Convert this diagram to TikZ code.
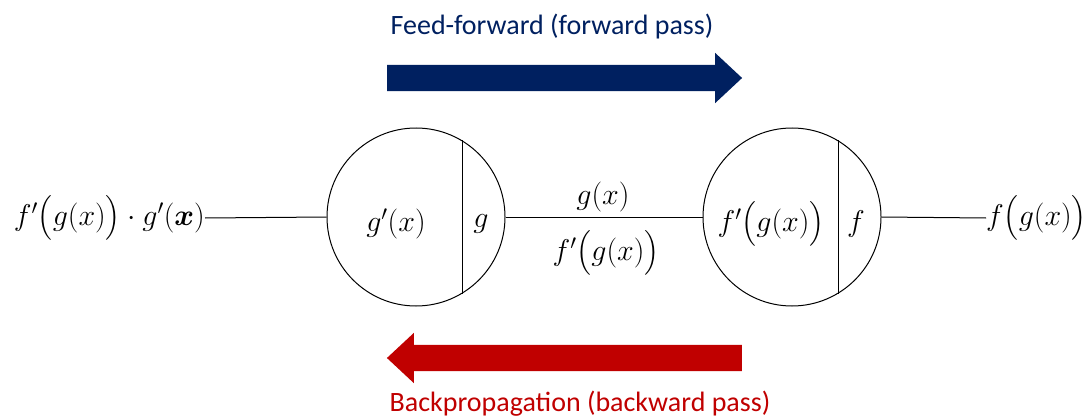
\documentclass[tikz,border=0pt]{standalone}
\usepackage{fix-cm}
\usepackage{amsmath}
\usepackage{fontspec}
\setmainfont{Carlito}
\usetikzlibrary{shapes.arrows}
\definecolor{navy}{RGB}{0,32,96}
\definecolor{darkred}{RGB}{192,0,0}
\tikzstyle{unit} = [circle, draw, line width=1pt, minimum size=178pt, inner sep=0pt]
\tikzstyle{lbl} = [inner sep=0pt, font=\fontsize{30}{36}\selectfont]
\tikzstyle{caption} = [inner sep=0pt, font=\fontsize{28}{34}\selectfont]
\tikzstyle{wire} = [line width=1pt]
\tikzstyle{bigarrow} = [single arrow, minimum height=355pt, minimum width=50pt,
    text height=13pt, text depth=13pt, text width=0pt,
    single arrow head extend=12pt, single arrow tip angle=86, inner sep=0pt]

\begin{document}
\begin{tikzpicture}[x=1pt, y=-1pt]
        \useasboundingbox (0,0) rectangle (1091,417);
        % Nodes
        \node (gnode) [unit] at (416,217) {};
        \node (fnode) [unit] at (792,217) {};
        \node (gval) [lbl] at (396,224) {$g'(x)$};
        \node (gname) [lbl] at (481,224) {$g$};
        \node (fval) [lbl] at (771,224) {$f'\bigl(g(x)\bigr)$};
        \node (fname) [lbl] at (856,224) {$f$};
        \node (input) [lbl, anchor=east] at (205,218) {$f'\bigl(g(x)\bigr)\cdot g'(\boldsymbol{x})$};
        \node (output) [lbl, anchor=west] at (986,218) {$f\bigl(g(x)\bigr)$};
        \node (fwdval) [lbl] at (603,197) {$g(x)$};
        \node (bwdval) [lbl] at (606,253) {$f'\bigl(g(x)\bigr)$};
        \node (fwdarrow) [bigarrow, fill=navy] at (557.5,78) {};
        \node (bwdarrow) [bigarrow, fill=darkred, shape border rotate=180] at (571.5,358) {};
        \node (fwdtext) [caption, text=navy] at (552,27) {Feed-forward (forward pass)};
        \node (bwdtext) [caption, text=darkred] at (580,404) {Backpropagation (backward pass)};

        % Lines
        \draw[wire] (gnode.59) -- (gnode.-59);
        \draw[wire] (fnode.59) -- (fnode.-59);
        \draw[wire] (input.east) -- (gnode.west);
        \draw[wire] (gnode.east) -- (fnode.west);
        \draw[wire] (fnode.east) -- (output.west);
    \end{tikzpicture}
\end{document}
